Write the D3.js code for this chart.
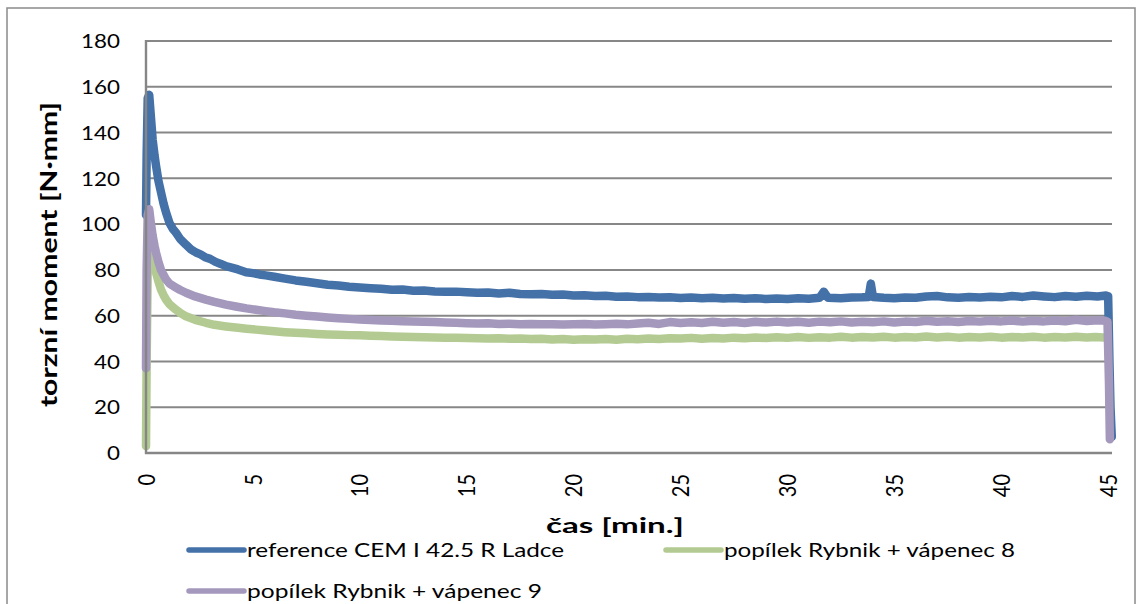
<!DOCTYPE html>
<html><head><meta charset="utf-8">
<script src="https://cdn.jsdelivr.net/npm/d3@7"></script>
<style>
html,body{margin:0;padding:0;background:#fff;}
svg{display:block;}
text{font-family:Lato,"Open Sans",sans-serif;fill:#000;}
</style></head>
<body>
<script>
// ---- data ----
const seriesNames = ["reference CEM I 42.5 R Ladce", "popílek Rybnik + vápenec 8", "popílek Rybnik + vápenec 9"];
const seriesColors = ["#4471a8", "#b3cb92", "#a498bc"];
const xTicks = [0,5,10,15,20,25,30,35,40,45];
const yTicks = [0,20,40,60,80,100,120,140,160,180];
const xTitle = "čas [min.]";
const yTitle = "torzní moment [N·mm]";

// [time (min), torque (N·mm)]
const refData = [[0,104],[0.03,130],[0.08,155],[0.15,156.5],[0.22,148],[0.31,137],[0.4,130],[0.47,125.5],[0.58,119],[0.7,114],[0.82,109],[0.94,105],[1.1,100.5],[1.25,98],[1.4,96.3],[1.6,93.5],[1.87,91],[2.1,89],[2.34,87.6],[2.55,86.8],[2.8,85.4],[3.0,84.8],[3.25,83.5],[3.5,82.6],[3.74,81.6],[4.0,81],[4.3,80.2],[4.68,79],[5.0,78.6],[5.3,78],[5.6,77.6],[6.0,77],[6.5,76.2],[7.0,75.4],[7.5,74.8],[8.0,74.2],[8.5,73.5],[9.0,73.2],[9.5,72.6],[10,72.3],[10.5,72],[11,71.8],[11.5,71.3],[12,71.4],[12.5,70.9],[13,71],[13.5,70.6],[14,70.4],[14.5,70.5],[15,70.2],[15.5,70],[16,70.1],[16.5,69.7],[17,70],[17.5,69.5],[18,69.4],[18.5,69.5],[19,69.1],[19.5,69.2],[20,68.8],[20.5,68.9],[21,68.6],[21.5,68.7],[22,68.3],[22.5,68.4],[23,68.1],[23.5,68.2],[24,67.9],[24.5,68],[25,67.7],[25.5,67.9],[26,67.6],[26.5,67.8],[27,67.5],[27.5,67.7],[28,67.4],[28.5,67.6],[29,67.3],[29.5,67.5],[30,67.3],[30.5,67.6],[31,67.4],[31.5,67.8],[31.7,70.5],[31.9,67.8],[32.5,67.6],[33,67.9],[33.5,68],[33.8,68.2],[33.9,74],[34.0,68.2],[34.5,67.8],[35,67.6],[35.5,67.9],[36,67.8],[36.5,68.4],[37,68.6],[37.5,68],[38,67.8],[38.5,68.2],[39,67.9],[39.5,68.3],[40,68],[40.5,68.6],[41,68.2],[41.5,68.8],[42,68.4],[42.5,68.1],[43,68.6],[43.5,68.3],[44,68.7],[44.5,68.4],[44.9,68.8],[45.0,68.5],[45.06,40],[45.11,20],[45.17,7]];

const v8Data = [[0,3],[0.03,40],[0.08,80],[0.13,93],[0.2,90],[0.31,84],[0.4,80.5],[0.47,78.8],[0.58,75],[0.7,71.4],[0.82,69],[0.94,67],[1.1,65],[1.4,62.6],[1.6,61.2],[1.87,59.7],[2.3,58.2],[2.8,56.9],[3.2,56],[3.74,55.3],[4.2,54.8],[4.7,54.3],[5.15,53.9],[5.6,53.5],[6,53.2],[6.5,52.8],[7,52.5],[7.5,52.3],[8,52],[8.5,51.8],[9,51.7],[9.5,51.5],[10,51.4],[10.5,51.2],[11,51.1],[11.5,50.9],[12,50.8],[12.5,50.7],[13,50.6],[13.5,50.5],[14,50.4],[14.5,50.3],[15,50.2],[15.5,50.1],[16,50],[16.5,50.1],[17,49.9],[17.5,50],[18,49.8],[18.5,49.9],[19,49.6],[19.5,49.8],[20,49.5],[20.5,49.7],[21,49.6],[21.5,49.8],[22,49.5],[22.5,49.9],[23,49.7],[23.5,50],[24,49.8],[24.5,50.1],[25,50],[25.5,50.3],[26,49.9],[26.5,50.2],[27,50],[27.5,50.4],[28,50.1],[28.5,50.5],[29,50.2],[29.5,50.6],[30,50.3],[30.5,50.7],[31,50.3],[31.5,50.6],[32,50.4],[32.5,50.8],[33,50.4],[33.5,50.7],[34,50.5],[34.5,50.8],[35,50.4],[35.5,50.7],[36,50.5],[36.5,50.9],[37,50.5],[37.5,50.8],[38,50.4],[38.5,50.7],[39,50.5],[39.5,50.8],[40,50.4],[40.5,50.7],[41,50.5],[41.5,50.8],[42,50.4],[42.5,50.7],[43,50.5],[43.5,50.8],[44,50.5],[44.4,50.7],[44.78,50.5]];

const v9Data = [[0,37],[0.03,80],[0.08,104],[0.15,106.5],[0.22,101],[0.31,95],[0.4,90.5],[0.47,87.5],[0.58,83.5],[0.7,80],[0.82,77.8],[0.94,75.8],[1.1,74],[1.4,72.3],[1.6,71.2],[1.87,70],[2.3,68.4],[2.8,67],[3.2,66],[3.74,64.8],[4.2,64],[4.7,63.2],[5.15,62.6],[5.6,62],[6,61.5],[6.5,61],[7,60.4],[7.5,60],[8,59.6],[8.5,59.2],[9,58.9],[9.5,58.6],[10,58.3],[10.5,58.1],[11,57.9],[11.5,57.8],[12,57.6],[12.5,57.5],[13,57.3],[13.5,57.2],[14,57],[14.5,56.9],[15,56.7],[15.5,56.6],[16,56.7],[16.5,56.4],[17,56.5],[17.5,56.3],[18,56.4],[18.5,56.2],[19,56.3],[19.5,56.1],[20,56.2],[20.5,56.4],[21,56.1],[21.5,56.3],[22,56.5],[22.5,56.2],[23,56.6],[23.5,56.9],[24,56.4],[24.5,57.2],[25,56.8],[25.5,57.1],[26,56.8],[26.5,57.3],[27,56.9],[27.5,57.2],[28,56.8],[28.5,57.3],[29,57],[29.5,57.4],[30,57],[30.5,57.3],[31,56.9],[31.5,57.4],[32,57.1],[32.5,57.5],[33,57],[33.5,57.3],[34,57.1],[34.5,57.5],[35,57],[35.5,57.4],[36,57.2],[36.5,57.8],[37,57.3],[37.5,57.6],[38,57.2],[38.5,57.7],[39,57.4],[39.5,57.8],[40,57.5],[40.5,57.9],[41,57.4],[41.5,57.8],[42,57.5],[42.5,57.9],[43,57.6],[43.5,58.2],[44,57.7],[44.5,58],[44.86,57.8],[44.97,57.4],[45.04,30],[45.08,6]];

// ---- layout ----
const W = 1141, H = 604;
const plot = {left:146, right:1112, top:41, bottom:453};
const SX = 1.12; // horizontal stretch of text glyphs

const svg = d3.select("body").append("svg").attr("width", W).attr("height", H);

// outer chart border
svg.append("rect").attr("x",7).attr("y",8).attr("width",1128).attr("height",610)
  .attr("fill","none").attr("stroke","#8a8a8a").attr("stroke-width",1.5);

const x = d3.scaleLinear().domain([0,45.18]).range([plot.left, plot.right]);
const y = d3.scaleLinear().domain([0,180]).range([plot.bottom, plot.top]);

// gridlines
svg.append("g").selectAll("line").data(yTicks.filter(d=>d>0)).join("line")
  .attr("x1",plot.left).attr("x2",plot.right)
  .attr("y1",d=>y(d)).attr("y2",d=>y(d))
  .attr("stroke","#878787").attr("stroke-width",2);

// y tick labels
svg.append("g").selectAll("text").data(yTicks).join("text")
  .attr("transform",d=>`translate(120,${y(d)}) scale(${SX},1)`)
  .attr("text-anchor","end").attr("dy","0.36em")
  .style("font-size","20px").text(d=>d);

// x tick labels (rotated)
svg.append("g").selectAll("text").data(xTicks).join("text")
  .attr("transform",d=>`translate(${x(d)},474) scale(1.2,1) rotate(-90)`)
  .attr("text-anchor","end").attr("dy","0.36em")
  .style("font-size","20px").text(d=>d);

// series lines
const line = d3.line().x(d=>x(d[0])).y(d=>y(d[1]));
const allData = [refData, v8Data, v9Data];
svg.append("g").selectAll("path").data(allData).join("path")
  .attr("d", line)
  .attr("fill","none")
  .attr("stroke",(d,i)=>seriesColors[i])
  .attr("stroke-width",8.5)
  .attr("stroke-linejoin","round").attr("stroke-linecap","round");

// axes lines
svg.append("line").attr("x1",plot.left).attr("x2",plot.left).attr("y1",plot.top-1).attr("y2",plot.bottom+1)
  .attr("stroke","#868686").attr("stroke-width",2.4);
svg.append("line").attr("x1",plot.left-1).attr("x2",plot.right).attr("y1",plot.bottom).attr("y2",plot.bottom)
  .attr("stroke","#868686").attr("stroke-width",2.4);

// axis titles
svg.append("text").attr("x",615).attr("y",533).attr("text-anchor","middle")
  .style("font-size","20px").style("font-weight","bold")
  .attr("textLength",138).attr("lengthAdjust","spacingAndGlyphs").text(xTitle);
svg.append("text").attr("transform",`translate(57,254.5) scale(1.1,1) rotate(-90)`)
  .attr("text-anchor","middle")
  .style("font-size","20px").style("font-weight","bold")
  .attr("textLength",305).attr("lengthAdjust","spacingAndGlyphs").text(yTitle);

// legend
const legendPos = [{lx:189, ty:557, w:317}, {lx:666, ty:557, w:291}, {lx:189, ty:598, w:295}];
const lg = svg.append("g").selectAll("g").data(seriesNames).join("g");
lg.append("line")
  .attr("x1",(d,i)=>legendPos[i].lx).attr("x2",(d,i)=>legendPos[i].lx+55)
  .attr("y1",(d,i)=>legendPos[i].ty-7).attr("y2",(d,i)=>legendPos[i].ty-7)
  .attr("stroke",(d,i)=>seriesColors[i]).attr("stroke-width",5.5).attr("stroke-linecap","round");
lg.append("text")
  .attr("x",(d,i)=>legendPos[i].lx+58).attr("y",(d,i)=>legendPos[i].ty)
  .style("font-size","20px")
  .attr("textLength",(d,i)=>legendPos[i].w).attr("lengthAdjust","spacingAndGlyphs")
  .text(d=>d);
</script>
</body></html>
